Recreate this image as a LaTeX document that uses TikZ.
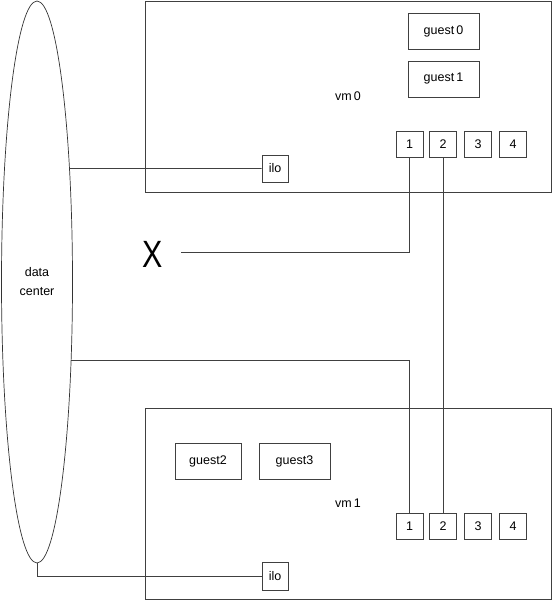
\documentclass[tikz,border=0pt]{standalone}
\usepackage{fontspec}
\setmainfont{Liberation Sans}
\usetikzlibrary{shapes.geometric,intersections}
\begin{document}
\begin{tikzpicture}[x=1pt,y=-1pt,
  ln/.style={draw=black!75, line width=0.8pt},
  box/.style={draw=black!75, line width=0.8pt, inner sep=0pt, font=\fontsize{12.5}{14}\selectfont},
  port/.style={box, minimum width=27pt, minimum height=26pt},
  guest/.style={box, minimum height=36pt}]
\useasboundingbox (0,0) rectangle (553,601);
% data center
\node[ellipse, draw=black!80, line width=0.7pt, minimum width=71pt, minimum height=562pt,
      inner sep=0pt, align=center, font=\fontsize{12.5}{19}\selectfont, name path=dcp] (dc) at (37,282) {data\\center};
% vm0
\node[box, minimum width=406pt, minimum height=191pt] (vm0) at (348,96.5) {vm\,0};
\node[guest, minimum width=71pt] (g0) at (443.5,31) {guest\,0};
\node[guest, minimum width=71pt] (g1) at (443.5,79) {guest\,1};
\node[port] (p01) at (409.5,144.5) {1};
\node[port] (p02) at (443,144.5) {2};
\node[port] (p03) at (478,144.5) {3};
\node[port] (p04) at (513,144.5) {4};
\node[box, minimum width=26pt, minimum height=27pt, fill=white] (ilo0) at (275,168.5) {ilo};
% vm1
\node[box, minimum width=406pt, minimum height=191pt] (vm1) at (348,503.5) {vm\,1};
\node[guest, minimum width=66pt] (g2) at (208,461) {guest2};
\node[guest, minimum width=71pt] (g3) at (294.5,461) {guest3};
\node[port] (p11) at (409.5,526.5) {1};
\node[port] (p12) at (443,526.5) {2};
\node[port] (p13) at (478,526.5) {3};
\node[port] (p14) at (513,526.5) {4};
\node[box, minimum width=26pt, minimum height=28pt, fill=white] (ilo1) at (275,576) {ilo};
% X
\node[inner sep=0pt, font=\fontsize{38}{40}\selectfont, xscale=0.8] (X) at (153,254) {X};
\coordinate (xs) at (181,252);
% connectors
\path[name path=h1] (ilo0.west) -- (37,168.5);
\path[name intersections={of=dcp and h1, by=e1}];
\draw[ln] (e1) -- (ilo0.west);
\path[name path=h2] (409.5,360) -- (37,360);
\path[name intersections={of=dcp and h2, by=e2}];
\draw[ln] (e2) -| (p11.north);
\draw[ln] (xs) -| (p01.south);
\draw[ln] (p02.south) -- (p12.north);
\draw[ln] (dc.south) |- (ilo1.west);
\end{tikzpicture}
\end{document}
